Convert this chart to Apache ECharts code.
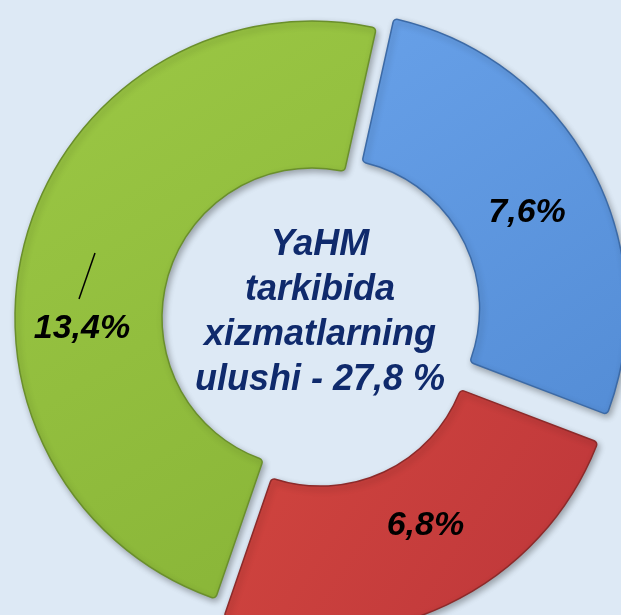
<!DOCTYPE html>
<html>
<head>
<meta charset="utf-8">
<script src="https://cdn.jsdelivr.net/npm/echarts@6/dist/echarts.min.js"></script>
<style>
  html, body { margin: 0; padding: 0; }
  #main { width: 621px; height: 615px; }
</style>
</head>
<body>
<div id="main"></div>
<script>
// slice data, clockwise from the top
const sliceNames = ['Qism 1', 'Qism 2', 'Qism 3'];
const sliceValues = [7.6, 6.8, 13.4];
const centerLines = ['YaHM', 'tarkibida', 'xizmatlarning', 'ulushi - 27,8 %'];

const lightColors = ['#67a0e8', '#d2463f', '#9cc845'];
const darkColors = ['#548dd6', '#bd363a', '#88b437'];
const edgeColors = ['#3c6aa6', '#8c2a2a', '#6a8f2c'];

let chart = echarts.init(document.getElementById('main'));

let seriesData = sliceValues.map(function (v, i) {
  return {
    value: v,
    name: sliceNames[i],
    selected: i < 2, // blue and red are pulled out
    itemStyle: {
      color: new echarts.graphic.LinearGradient(0, 0, 1, 1, [
        { offset: 0, color: lightColors[i] },
        { offset: 1, color: darkColors[i] }
      ]),
      borderColor: edgeColors[i],
      borderWidth: 1.5,
      borderRadius: 4,
      shadowBlur: 6,
      shadowColor: 'rgba(0,0,0,0.3)',
      shadowOffsetX: 2,
      shadowOffsetY: 3
    }
  };
});

// label nudges to match the original placement
const labelShift = [[-2, 11], [9, -16], [-12, 72]];

let option = {
  backgroundColor: '#dde9f5',
  animation: false,
  graphic: [
    {
      type: 'text',
      x: 320,
      y: 313,
      style: {
        text: centerLines.join('\n'),
        fontFamily: 'Liberation Sans',
        fontWeight: 'bold',
        fontStyle: 'italic',
        fontSize: 36,
        lineHeight: 45,
        fill: '#0f2a6c',
        align: 'center',
        verticalAlign: 'middle'
      }
    },
    {
      type: 'line',
      shape: { x1: 95, y1: 253, x2: 79, y2: 299 },
      style: { stroke: '#000', lineWidth: 1.5 },
      z: 10
    }
  ],
  series: [
    {
      type: 'pie',
      center: [312, 318],
      radius: [150, 297],
      startAngle: 77.5,
      clockwise: true,
      selectedMode: 'multiple',
      selectedOffset: 20,
      avoidLabelOverlap: false,
      emphasis: { disabled: true },
      label: {
        show: true,
        position: 'inside',
        formatter: function (p) {
          return String(p.value).replace('.', ',') + '%';
        },
        fontFamily: 'Liberation Sans',
        fontWeight: 'bold',
        fontStyle: 'italic',
        fontSize: 34,
        color: '#000'
      },
      labelLine: { show: false },
      labelLayout: function (params) {
        let s = labelShift[params.dataIndex];
        return { dx: s[0], dy: s[1] };
      },
      data: seriesData
    }
  ]
};

chart.setOption(option);
</script>
</body>
</html>
